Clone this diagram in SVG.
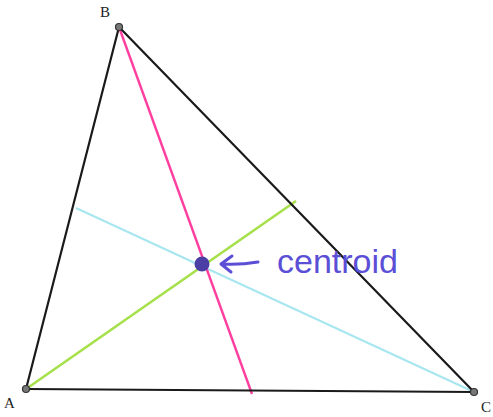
<svg xmlns="http://www.w3.org/2000/svg" width="493" height="417" viewBox="0 0 493 417">
<style>
.side{stroke:#1a1a1a;stroke-width:2.2;fill:none;stroke-linecap:round}
.vtx{fill:#777;stroke:#333;stroke-width:1.2}
.lbl{font-family:"Liberation Serif",serif;font-size:15px;fill:#222}
.hand{fill:none;stroke:#5b4fd6;stroke-width:3;stroke-linecap:round;stroke-linejoin:round}
</style>
<rect width="493" height="417" fill="#fff"/>
<g id="connectors">
<line x1="76" y1="208" x2="474" y2="392" stroke="#a8e6f0" stroke-width="2.2"/>
<line x1="26" y1="389" x2="296" y2="201" stroke="#a6e04a" stroke-width="2.6"/>
<line x1="119" y1="27" x2="252" y2="394" stroke="#ff3fa0" stroke-width="2.4"/>
<line class="side" x1="119" y1="27" x2="26" y2="389"/>
<line class="side" x1="119" y1="27" x2="474" y2="392"/>
<line class="side" x1="26" y1="389" x2="474" y2="392"/>
</g>
<g id="B"><circle class="vtx" cx="119" cy="27" r="3.5"/><text class="lbl" x="100" y="17">B</text></g>
<g id="A"><circle class="vtx" cx="26" cy="389" r="3.5"/><text class="lbl" x="4" y="408">A</text></g>
<g id="C"><circle class="vtx" cx="474" cy="392" r="3.5"/><text class="lbl" x="481" y="412">C</text></g>
<g id="centroid">
<circle cx="202" cy="264" r="7.5" fill="#4b3fa6"/>
<path class="hand" d="M258 262 Q240 265 222 264 M232 256 L221 264 L231 272"/>
<text x="277" y="273" font-family="Liberation Sans,sans-serif" font-size="34" fill="#5b4fd6">centroid</text>
</g>
</svg>
